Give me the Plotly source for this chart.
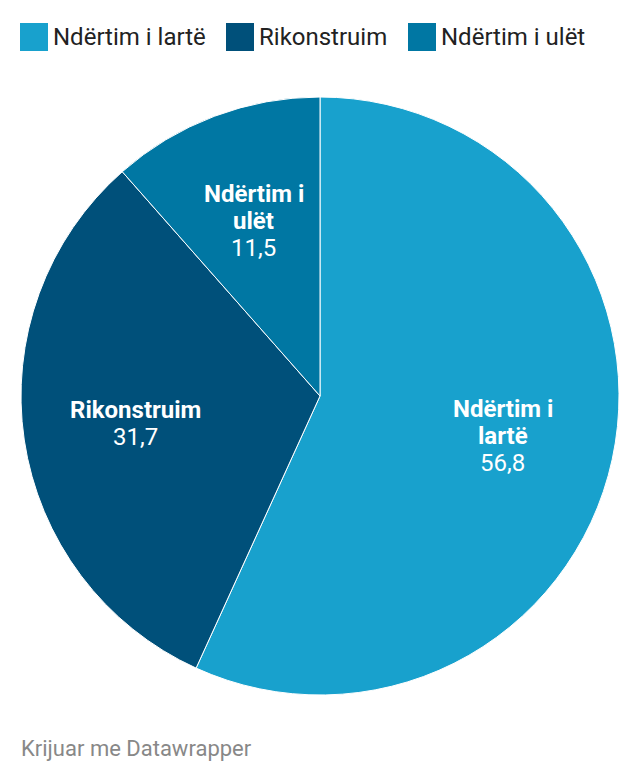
import math
import plotly.graph_objects as go

categories = ["Ndërtim i lartë", "Rikonstruim", "Ndërtim i ulët"]
label_lines = [["Ndërtim i", "lartë"], ["Rikonstruim"], ["Ndërtim i", "ulët"]]
values = [56.8, 31.7, 11.5]
colors = ["#18a1cd", "#00507a", "#0077a3"]

W, H = 640, 782
cx, cy, R = 320, 396, 299
LINE_H = 27

fig = go.Figure()
fig.add_trace(go.Pie(
    labels=categories, values=values, sort=False, direction="clockwise", rotation=0,
    marker=dict(colors=colors, line=dict(color="white", width=1)),
    textinfo="none", hoverinfo="label+value", showlegend=False,
    domain=dict(x=[(cx - R) / W, (cx + R) / W], y=[1 - (cy + R) / H, 1 - (cy - R) / H]),
))

annotations = []
total = sum(values)
cum = 0
for name, lines, v in zip(categories, label_lines, values):
    mid = (cum + v / 2) / total * 2 * math.pi
    cum += v
    r = 0.625 * R
    x = cx + r * math.sin(mid)
    y = cy - r * math.cos(mid)
    rows = [f"<b>{ln}</b>" for ln in lines] + [str(v).replace('.', ',')]
    n = len(rows)
    for i, t in enumerate(rows):
        off = (i - (n - 1) / 2) * LINE_H
        annotations.append(dict(x=x / W, y=1 - (y + off) / H, xref="paper", yref="paper", text=t,
                                showarrow=False, font=dict(family="Roboto", size=24, color="white"),
                                align="center", xanchor="center", yanchor="middle"))

# legend
leg_x = [20, 226, 408]
shapes = []
for lx, name, c in zip(leg_x, categories, colors):
    shapes.append(dict(type="rect", xref="paper", yref="paper", x0=lx / W, x1=(lx + 28) / W,
                       y0=1 - 51 / H, y1=1 - 23 / H, fillcolor=c, line=dict(width=0)))
    annotations.append(dict(x=(lx + 31) / W, y=1 - 37 / H, xref="paper", yref="paper", text=name,
                            showarrow=False, xanchor="left", yanchor="middle",
                            font=dict(family="Roboto", size=24, color="#222222")))

annotations.append(dict(x=19 / W, y=1 - 748 / H, xref="paper", yref="paper", text="Krijuar me Datawrapper",
                        showarrow=False, xanchor="left", yanchor="middle",
                        font=dict(family="Roboto", size=22, color="#888888")))

fig.update_layout(width=W, height=H, margin=dict(l=0, r=0, t=0, b=0),
                  paper_bgcolor="white", plot_bgcolor="white",
                  annotations=annotations, shapes=shapes, showlegend=False)
fig.write_html("out.html", config={"displayModeBar": False},
               post_script="document.body.style.margin='0';document.body.style.overflow='hidden';")
